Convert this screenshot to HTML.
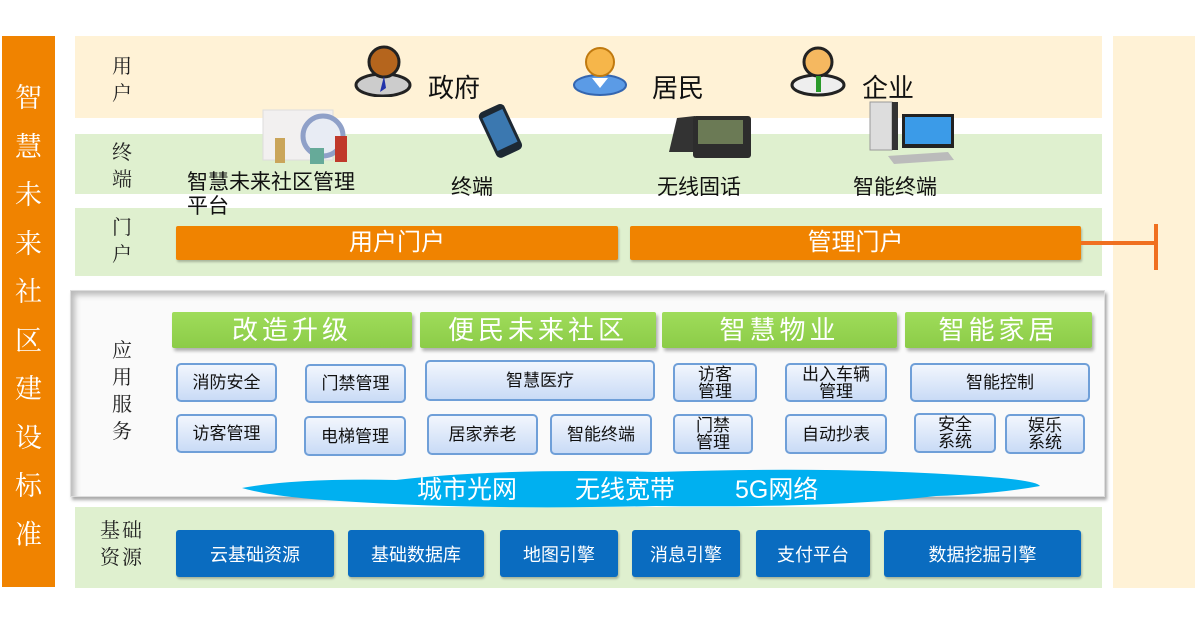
<!DOCTYPE html>
<html><head><meta charset="utf-8">
<style>
*{margin:0;padding:0;box-sizing:border-box}
body{width:1200px;height:623px;background:#fff;position:relative;overflow:hidden;font-family:"Liberation Sans","Noto Sans CJK SC",sans-serif}
.a{position:absolute}
.serif{font-family:"Liberation Serif","Noto Serif CJK SC",serif}
.lbl{position:absolute;font-family:"Liberation Serif","Noto Serif CJK SC",serif;font-size:20px;color:#222;line-height:27px;text-align:center;width:30px}
.ob{position:absolute;background:#f08300;color:#fff;font-size:24px;text-align:center;border-radius:2px;box-shadow:1px 2px 2px rgba(0,0,0,.25)}
.gh{position:absolute;background:#92d050;background:linear-gradient(#9fdc5a,#8ccc48);color:#fff;font-size:26px;text-align:center;letter-spacing:4px;height:36px;line-height:36px;top:312px;box-shadow:2px 3px 3px rgba(0,0,0,.3);border-radius:2px}
.sb{position:absolute;border:2px solid #6f9fd8;border-radius:5px;background:linear-gradient(#f2f6fd,#c9dbf6);font-size:17px;color:#111;display:flex;align-items:center;justify-content:center;text-align:center;line-height:17px}
.bb{position:absolute;top:530px;height:47px;background:#0a6cc0;color:#fff;font-size:18px;display:flex;align-items:center;justify-content:center;border-radius:3px;box-shadow:1px 2px 2px rgba(0,0,0,.25)}
.tl{position:absolute;font-size:21px;color:#111}
.ct{position:absolute;top:472px;color:#fff;font-size:25px;line-height:36px}
</style></head><body>
<div class="a" style="left:2px;top:36px;width:53px;height:551px;background:#f08300"></div>
<div class="a serif" style="left:2px;top:74px;width:53px;color:#fff;font-size:27px;line-height:48.5px;text-align:center">智<br>慧<br>未<br>来<br>社<br>区<br>建<br>设<br>标<br>准</div>
<div class="a" style="left:1113px;top:36px;width:82px;height:552px;background:#fff2d6"></div>
<div class="a" style="left:75px;top:36px;width:1027px;height:82px;background:#fff2d6"></div>
<div class="a" style="left:75px;top:134px;width:1027px;height:60px;background:#dff0cf"></div>
<div class="a" style="left:75px;top:208px;width:1027px;height:68px;background:#dff0cf"></div>
<div class="a" style="left:70px;top:290px;width:1035px;height:207px;background:#fafafa;border:1px solid #ddd;box-shadow:inset 6px 6px 6px -2px #bbb, 2px 3px 3px #aaa"></div>
<div class="a" style="left:75px;top:507px;width:1027px;height:81px;background:#dff0cf"></div>

<div class="lbl" style="left:107px;top:54px">用<br>户</div>
<div class="lbl" style="left:107px;top:140px">终<br>端</div>
<div class="lbl" style="left:107px;top:215px">门<br>户</div>
<div class="lbl" style="left:107px;top:338px">应<br>用<br>服<br>务</div>
<div class="lbl" style="left:92px;top:518px;width:60px;letter-spacing:2px">基础<br>资源</div>

<svg class="a" style="left:350px;top:42px" width="80" height="55">
<ellipse cx="33" cy="43" rx="27" ry="11" fill="#ccc" stroke="#222" stroke-width="3"/>
<circle cx="34" cy="20" r="15" fill="#b5651d" stroke="#222" stroke-width="3"/>
<path d="M34 34 L30 50 L36 46 Z" fill="#2233aa"/></svg>
<div class="tl" style="left:428px;top:68px;font-size:26px">政府</div>
<svg class="a" style="left:570px;top:42px" width="70" height="55">
<ellipse cx="30" cy="43" rx="26" ry="10" fill="#5b9be6" stroke="#3466b0" stroke-width="2"/>
<circle cx="30" cy="20" r="14" fill="#f6b64a" stroke="#c07a10" stroke-width="2"/>
<path d="M22 36 L30 46 L38 36 Z" fill="#fff"/></svg>
<div class="tl" style="left:652px;top:68px;font-size:26px">居民</div>
<svg class="a" style="left:788px;top:42px" width="70" height="55">
<ellipse cx="30" cy="43" rx="26" ry="10" fill="#eee" stroke="#222" stroke-width="3"/>
<circle cx="30" cy="20" r="14" fill="#f5b860" stroke="#222" stroke-width="3"/>
<rect x="28" y="34" width="5" height="16" fill="#2a9a2a"/></svg>
<div class="tl" style="left:862px;top:68px;font-size:26px">企业</div>

<svg class="a" style="left:255px;top:108px" width="120" height="60">
<rect x="8" y="2" width="70" height="50" fill="#f2f0f0" stroke="#ddd"/>
<circle cx="68" cy="28" r="20" fill="#e8ecf4" stroke="#8fa0c8" stroke-width="5"/>
<rect x="20" y="30" width="10" height="25" fill="#caa55a"/><rect x="80" y="28" width="12" height="26" fill="#c0392b"/><rect x="55" y="40" width="14" height="16" fill="#6a9"/></svg>
<svg class="a" style="left:472px;top:102px" width="60" height="58">
<g transform="rotate(-25 28 28)"><rect x="14" y="4" width="28" height="50" rx="5" fill="#1d2833"/><rect x="17" y="10" width="22" height="36" fill="#3b78b0"/></g></svg>
<svg class="a" style="left:665px;top:112px" width="90" height="50">
<path d="M4 40 L12 6 L30 4 L32 40 Z" fill="#333"/><rect x="28" y="4" width="58" height="42" rx="3" fill="#2d2d2d"/><rect x="33" y="8" width="45" height="24" fill="#6b7a55"/></svg>
<svg class="a" style="left:868px;top:100px" width="95" height="65">
<rect x="2" y="2" width="22" height="48" fill="#ddd" stroke="#999"/><rect x="24" y="2" width="6" height="48" fill="#333"/>
<rect x="34" y="14" width="52" height="34" fill="#222"/><rect x="37" y="17" width="46" height="27" fill="#3b9be8"/>
<path d="M20 56 L80 52 L86 60 L26 64 Z" fill="#bbb"/></svg>
<div class="tl" style="left:187px;top:171px;line-height:24px">智慧未来社区管理<br>平台</div>
<div class="tl" style="left:451px;top:171px">终端</div>
<div class="tl" style="left:657px;top:171px">无线固话</div>
<div class="tl" style="left:853px;top:171px">智能终端</div>

<div class="ob" style="left:176px;top:226px;width:442px;height:34px;line-height:34px">用户门户</div>
<div class="ob" style="left:630px;top:226px;width:451px;height:34px;line-height:34px">管理门户</div>
<div class="a" style="left:1081px;top:241px;width:76px;height:4px;background:#f07020"></div>
<div class="a" style="left:1154px;top:224px;width:4px;height:46px;background:#f07020"></div>

<div class="gh" style="left:172px;width:240px">改造升级</div>
<div class="gh" style="left:420px;width:236px">便民未来社区</div>
<div class="gh" style="left:662px;width:235px">智慧物业</div>
<div class="gh" style="left:905px;width:187px">智能家居</div>

<div class="sb" style="left:176px;top:363px;width:101px;height:39px">消防安全</div>
<div class="sb" style="left:305px;top:364px;width:101px;height:39px">门禁管理</div>
<div class="sb" style="left:425px;top:360px;width:230px;height:41px">智慧医疗</div>
<div class="sb" style="left:673px;top:363px;width:84px;height:39px">访客<br>管理</div>
<div class="sb" style="left:785px;top:363px;width:102px;height:39px">出入车辆<br>管理</div>
<div class="sb" style="left:910px;top:363px;width:180px;height:39px">智能控制</div>
<div class="sb" style="left:176px;top:414px;width:101px;height:39px">访客管理</div>
<div class="sb" style="left:304px;top:416px;width:102px;height:40px">电梯管理</div>
<div class="sb" style="left:427px;top:414px;width:111px;height:41px">居家养老</div>
<div class="sb" style="left:550px;top:414px;width:102px;height:41px">智能终端</div>
<div class="sb" style="left:673px;top:414px;width:80px;height:40px">门禁<br>管理</div>
<div class="sb" style="left:785px;top:414px;width:102px;height:40px">自动抄表</div>
<div class="sb" style="left:914px;top:413px;width:82px;height:40px">安全<br>系统</div>
<div class="sb" style="left:1005px;top:414px;width:80px;height:40px">娱乐<br>系统</div>

<svg class="a" style="left:236px;top:466px" width="810" height="44">
<path d="M6 22 Q60 12 160 14 Q260 2 420 6 Q600 0 740 10 Q800 14 804 20 Q760 28 700 30 Q600 42 420 40 Q250 44 120 36 Q40 32 6 22 Z" fill="#00b0f0"/></svg>
<div class="ct" style="left:417px">城市光网</div>
<div class="ct" style="left:575px">无线宽带</div>
<div class="ct" style="left:735px">5G网络</div>

<div class="bb" style="left:176px;width:158px">云基础资源</div>
<div class="bb" style="left:348px;width:136px">基础数据库</div>
<div class="bb" style="left:500px;width:118px">地图引擎</div>
<div class="bb" style="left:632px;width:108px">消息引擎</div>
<div class="bb" style="left:756px;width:114px">支付平台</div>
<div class="bb" style="left:884px;width:197px">数据挖掘引擎</div>
</body></html>
